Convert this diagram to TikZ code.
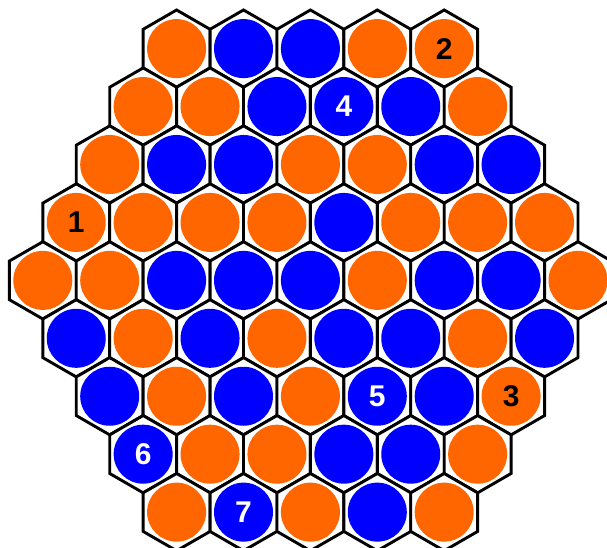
\documentclass[tikz,border=0pt]{standalone}
\usepackage{fontspec}
\setmainfont{Liberation Sans}
\usepackage{xcolor}
\usepackage{tikz}
\definecolor{hexorange}{HTML}{FF6600}
\definecolor{hexblue}{HTML}{0000FF}
\tikzstyle{hexcell} = [draw=black, line width=2.9pt, fill=white]
\tikzstyle{stone}   = [circle, minimum size=59pt, inner sep=0pt]
\tikzstyle{org}     = [stone, fill=hexorange]
\tikzstyle{blu}     = [stone, fill=hexblue]
\tikzstyle{num}     = [font=\fontsize{30}{30}\selectfont\bfseries, inner sep=0pt]
\tikzstyle{dnum}    = [num, text=black]
\tikzstyle{lnum}    = [num, text=white]

\begin{document}
\begin{tikzpicture}[x=1pt, y=-1pt]
  \useasboundingbox (0,0) rectangle (607,547);
  \clip (0,0) rectangle (607,547);

  % Board, row by row
  \foreach \r/\cells in {0/{org,blu,blu,org,org},
                         1/{org,org,blu,blu,blu,org},
                         2/{org,blu,blu,org,org,blu,blu},
                         3/{org,org,org,org,blu,org,org,org},
                         4/{org,org,blu,blu,blu,org,blu,blu,org},
                         5/{blu,org,blu,org,blu,blu,org,blu},
                         6/{blu,org,blu,org,blu,blu,org},
                         7/{blu,org,org,blu,blu,org},
                         8/{org,blu,org,blu,org}}{
    \pgfmathsetmacro{\xs}{176.6-33.45*(4-abs(\r-4))}
    \pgfmathsetmacro{\ys}{48.6+57.94*\r}
    \foreach \c [count=\i from 0] in \cells {
      \pgfmathsetmacro{\xc}{\xs+66.9*\i}
      \draw[hexcell] (\xc,\ys) +(90:38.62) -- +(30:38.62) -- +(-30:38.62)
        -- +(-90:38.62) -- +(-150:38.62) -- +(150:38.62) -- cycle;
      \node[\c] (c-\r-\i) at (\xc,\ys) {};
    }
  }

  % Numbers
  \node[dnum] (n1) at (c-3-0) {1};
  \node[dnum] (n2) at (c-0-4) {2};
  \node[dnum] (n3) at (c-6-6) {3};
  \node[lnum] (n4) at (c-1-3) {4};
  \node[lnum] (n5) at (c-6-4) {5};
  \node[lnum] (n6) at (c-7-0) {6};
  \node[lnum] (n7) at (c-8-1) {7};
\end{tikzpicture}
\end{document}
